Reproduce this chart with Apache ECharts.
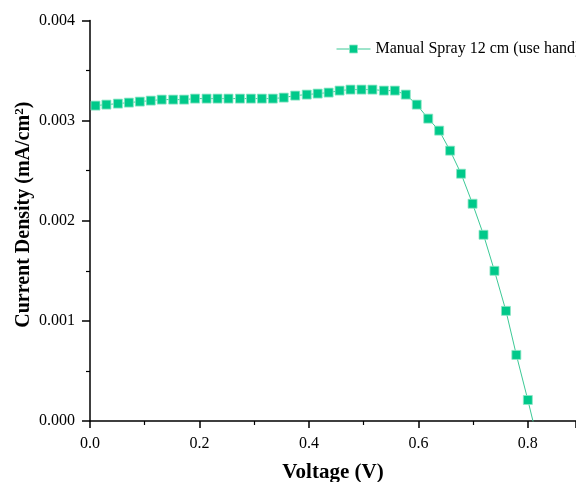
<!DOCTYPE html>
<html><head><meta charset="utf-8">
<script src="https://cdn.jsdelivr.net/npm/echarts@6/dist/echarts.min.js"></script>
<style>html,body{margin:0;padding:0;background:#fff}#c{width:576px;height:482px}</style>
</head><body><div id="c"></div>
<script>
const seriesName = 'Manual Spray 12 cm (use hand)';
const voltage = [0.010,0.030,0.051,0.071,0.091,0.111,0.131,0.152,0.172,0.192,0.213,0.233,0.253,0.274,0.294,0.314,0.334,0.354,0.375,0.396,0.416,0.436,0.456,0.476,0.496,0.516,0.537,0.557,0.577,0.597,0.618,0.638,0.658,0.678,0.699,0.719,0.739,0.760,0.779,0.800,0.820];
const current = [0.00315,0.00316,0.00317,0.00318,0.00319,0.00320,0.00321,0.00321,0.00321,0.00322,0.00322,0.00322,0.00322,0.00322,0.00322,0.00322,0.00322,0.00323,0.00325,0.00326,0.00327,0.00328,0.00330,0.00331,0.00331,0.00331,0.00330,0.00330,0.00326,0.00316,0.00302,0.00290,0.00270,0.00247,0.00217,0.00186,0.00150,0.00110,0.00066,0.00021,-0.00024];
const yTicks = ['0.000','0.001','0.002','0.003','0.004'];
const xTicks = ['0.0','0.2','0.4','0.6','0.8'];

const FONT = '"Liberation Serif","Times New Roman",serif';
const chart = echarts.init(document.getElementById('c'), null, {renderer:'canvas'});
chart.setOption({
  animation:false,
  backgroundColor:'#fff',
  grid:{left:90, top:20.5, right:0, bottom:61, containLabel:false, outerBoundsMode:'none'},
  legend:{
    show:true, left:336, top:41, padding:0, itemWidth:34, itemHeight:10, itemGap:4,
    textStyle:{fontFamily:FONT, fontSize:16, color:'#000'},
    itemStyle:{color:'#00C98A', borderColor:'#8FE6C6', borderWidth:0.8},
    lineStyle:{color:'#3CC996', width:1},
    data:[{name:seriesName}]
  },
  xAxis:{
    type:'value', min:0, max:0.888, interval:0.2,
    name:'Voltage (V)', nameLocation:'middle', nameGap:41, nameMoveOverlap:false,
    nameTextStyle:{fontFamily:FONT, fontSize:21, fontWeight:'bold', color:'#000'},
    axisLine:{show:true, lineStyle:{color:'#000', width:1.5}},
    axisTick:{show:true, inside:false, length:7, lineStyle:{color:'#000', width:1.5}},
    minorTick:{show:true, splitNumber:2, length:4, lineStyle:{color:'#000', width:1.2}},
    splitLine:{show:false},
    axisLabel:{fontFamily:FONT, fontSize:16, color:'#000', margin:15, showMaxLabel:false,
      formatter:(v)=>{const i=Math.round(v/0.2); return Math.abs(v-i*0.2)<1e-9 && i<xTicks.length ? xTicks[i] : '';}}
  },
  yAxis:{
    type:'value', min:0, max:0.004, interval:0.001,
    name:'{m|Current Density (mA/cm}{s|2}{m|)}', nameLocation:'middle', nameGap:56, nameMoveOverlap:false,
    nameTextStyle:{fontFamily:FONT, fontSize:20, fontWeight:'bold', color:'#000', padding:[0,0,0,12],
      rich:{
        m:{fontFamily:FONT, fontSize:20, fontWeight:'bold', color:'#000'},
        s:{fontFamily:FONT, fontSize:13, fontWeight:'bold', color:'#000', verticalAlign:'top', padding:[0,0,8,0]}
      }},
    axisLine:{show:true, lineStyle:{color:'#000', width:1.5}},
    axisTick:{show:true, inside:false, length:8, lineStyle:{color:'#000', width:1.5}},
    minorTick:{show:true, splitNumber:2, length:4, lineStyle:{color:'#000', width:1.2}},
    splitLine:{show:false},
    axisLabel:{fontFamily:FONT, fontSize:16, color:'#000', margin:15,
      formatter:(v)=>{const i=Math.round(v/0.001); return yTicks[i] || '';}}
  },
  series:[{
    name:seriesName, type:'line', clip:true,
    data: voltage.map((v,i)=>[v, current[i]]),
    symbol:'rect', symbolSize:9,
    itemStyle:{color:'#00C98A', borderColor:'#8FE6C6', borderWidth:0.8},
    lineStyle:{color:'#3CC996', width:1},
    z:3
  }]
});
</script></body></html>
